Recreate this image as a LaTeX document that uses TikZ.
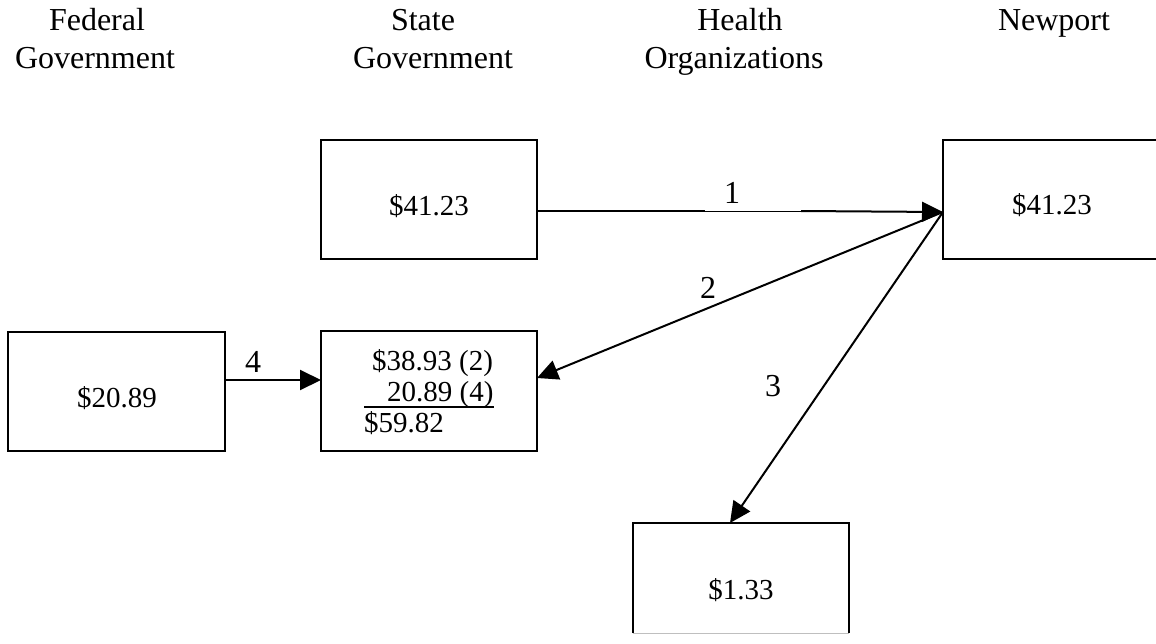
\documentclass[tikz,border=0pt]{standalone}
\usepackage{fontspec}
\setmainfont{Liberation Serif}
\usetikzlibrary{arrows.meta}
\begin{document}
\begin{tikzpicture}[x=1pt,y=-1pt,
  box/.style={draw=black,line width=2pt,inner sep=0pt,minimum width=216pt,minimum height=119pt},
  head/.style={font=\fontsize{32}{38}\selectfont,inner sep=0pt,anchor=base},
  val/.style={font=\fontsize{29}{33}\selectfont,inner sep=0pt,anchor=base},
  lab/.style={font=\fontsize{32}{38}\selectfont,inner sep=0pt,anchor=base},
  conn/.style={line width=2pt},
  arr/.style={line width=2pt,-{Triangle[length=21pt,width=20pt]}}]
\useasboundingbox (0,0) rectangle (1156,643);
\clip (0,0) rectangle (1156,643);
% headings
\node[head] (h1a) at (97,30) {Federal};
\node[head] (h1b) at (95,68) {Government};
\node[head] (h2a) at (423,30) {State};
\node[head] (h2b) at (433,68) {Government};
\node[head] (h3a) at (740,30) {Health};
\node[head] (h3b) at (734,68) {Organizations};
\node[head] (h4a) at (1054,30) {Newport};
% boxes
\node[box] (stTop) at (429,199.5) {};
\node[box,minimum width=217pt] (np) at (1051.5,199.5) {};
\node[box,minimum width=217pt] (fed) at (116.5,391.5) {};
\node[box,minimum height=120pt] (stMid) at (429,391) {};
\node[inner sep=0pt,minimum width=216pt,minimum height=110pt] (hl) at (741,578) {};
\draw[line width=2pt] (hl.south west) -- (hl.north west) -- (hl.north east) -- (hl.south east);
\draw[line width=1pt,black!25] (hl.south west) -- (hl.south east);
% box texts
\node[val] (tTop) at (429,215) {\$41.23};
\node[val] (tNp) at (1052,214) {\$41.23};
\node[val] (tFed) at (117,407) {\$20.89};
\node[val] (tHl) at (741,599) {\$1.33};
\node[val,anchor=base west] (m1) at (372,370) {\$38.93 (2)};
\node[val,anchor=base west] (m2) at (387,401) {20.89 (4)};
\node[val,anchor=base west] (m3) at (364,432) {\$59.82};
\draw[line width=2pt] (364,407) -- (494,407);
% connector points
\coordinate (npT) at (943,212);
\coordinate (a1s) at (537,211);
\coordinate (g1) at (705,211);
\coordinate (g2) at (801,211);
\coordinate (a2e) at (537,378);
\coordinate (a3e) at (730,523);
\coordinate (a4s) at (225,380);
\coordinate (a4e) at (321,380);
% connectors
\draw[conn] (a1s) -- (g1);
\draw[line width=1pt] (g1) -- (g2);
\draw[arr] (g2) -- (npT);
\draw[arr] (npT) -- (a2e);
\draw[arr] (npT) -- (a3e);
\draw[arr] (a4s) -- (a4e);
% labels
\node[lab] (l1) at (732,203) {1};
\node[lab] (l2) at (708,298) {2};
\node[lab] (l3) at (773,396) {3};
\node[lab] (l4) at (253,372) {4};
\end{tikzpicture}
\end{document}
